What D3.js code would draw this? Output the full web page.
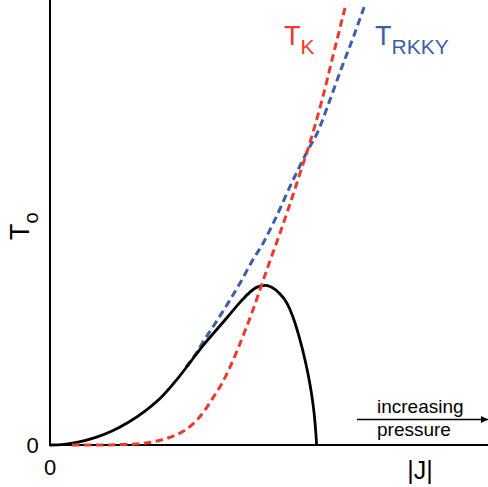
<!DOCTYPE html>
<html><head><meta charset="utf-8">
<script src="https://cdn.jsdelivr.net/npm/d3@7"></script>
<style>html,body{margin:0;padding:0;background:#fff}svg{display:block}text{font-family:"Liberation Sans",Arial,sans-serif}</style>
</head><body>
<script>
// Data (J, T), both in normalized units
const neelJ = [0,0.0320,0.0639,0.1027,0.1416,0.1781,0.2169,0.2557,0.2922,0.3196,0.3470,0.3767,0.4064,0.4338,0.4566,0.4726,0.4909,0.5023,0.5137,0.5251,0.5365,0.5479,0.5594,0.5708,0.5822,0.5913,0.5982,0.6039,0.6073,0.6087];
const neelT = [0,0.0016,0.0063,0.0164,0.0315,0.0506,0.0762,0.1090,0.1501,0.1852,0.2207,0.2551,0.2888,0.3204,0.3436,0.3548,0.3587,0.3562,0.3499,0.3393,0.3258,0.3045,0.2742,0.2360,0.1910,0.1483,0.1079,0.0629,0.0225,0];
const kondoJ = [0.050,0.114,0.160,0.205,0.240,0.267,0.297,0.324,0.349,0.372,0.393,0.411,0.429,0.445,0.461,0.479,0.502,0.525,0.548,0.571,0.600,0.621,0.646,0.674];
const kondoT = [0,0,0.001,0.003,0.008,0.015,0.027,0.045,0.072,0.106,0.139,0.175,0.216,0.256,0.297,0.348,0.413,0.476,0.542,0.611,0.701,0.775,0.874,0.984];
const rkkyJ = [0.3105,0.3311,0.349,0.379,0.411,0.438,0.463,0.484,0.502,0.523,0.541,0.566,0.589,0.610,0.639,0.664,0.692,0.717];
const rkkyT = [0.1753,0.2022,0.231,0.276,0.326,0.371,0.416,0.449,0.483,0.526,0.566,0.618,0.663,0.701,0.775,0.843,0.915,0.984];
const xTickLabels = ["0"];
const yTickLabels = ["0"];
const xAxisLabel = "|J|";
const yAxisLabel = ["T", "o"];
const kondoLabel = ["T", "K"];
const rkkyLabel = ["T", "RKKY"];
const arrowLabels = ["increasing", "pressure"];

const W = 488, H = 487;
const RED = "#ee3a2c", BLUE = "#3d5eab";
const svg = d3.select("body").append("svg").attr("width", W).attr("height", H);
const x = d3.scaleLinear().domain([0, 1]).range([50, 488]);
const y = d3.scaleLinear().domain([0, 1]).range([445, 0]);

svg.append("defs").append("marker").attr("id","ah").attr("viewBox","0 0 10 10")
  .attr("refX",10).attr("refY",5).attr("markerWidth",13).attr("markerHeight",7)
  .attr("markerUnits","userSpaceOnUse").attr("orient","auto")
  .append("path").attr("d","M0,0L10,5L0,10z").attr("fill","#000");

// axes
svg.append("line").attr("x1", x(0)).attr("x2", x(0)).attr("y1", y(0)).attr("y2", y(1))
  .attr("stroke", "#000").attr("stroke-width", 2);
svg.append("line").attr("x1", x(0) - 1).attr("x2", x(1)).attr("y1", y(0)).attr("y2", y(0))
  .attr("stroke", "#000").attr("stroke-width", 2);

const mk = (J, T) => J.map((j, i) => [j, T[i]]);
const line = d3.line().x(d => x(d[0])).y(d => y(d[1])).curve(d3.curveMonotoneX);

svg.append("path").attr("d", line(mk(rkkyJ, rkkyT))).attr("fill", "none")
  .attr("stroke", BLUE).attr("stroke-width", 3).attr("stroke-dasharray", "7.5,4.5");
svg.append("path").attr("d", line(mk(neelJ, neelT))).attr("fill", "none")
  .attr("stroke", "#000").attr("stroke-width", 2.8);
svg.append("path").attr("d", line(mk(kondoJ, kondoT))).attr("fill", "none")
  .attr("stroke", RED).attr("stroke-width", 3).attr("stroke-dasharray", "7.5,4.5");

// tick labels
svg.append("text").attr("x", x(0) - 17.5).attr("y", y(0) + 7.5).attr("text-anchor", "middle")
  .attr("font-size", 22).text(yTickLabels[0]);
svg.append("text").attr("x", x(0)).attr("y", y(0) + 29.5).attr("text-anchor", "middle")
  .attr("font-size", 22).text(xTickLabels[0]);
svg.append("text").attr("x", 420).attr("y", 479).attr("text-anchor", "middle")
  .attr("font-size", 25).text(xAxisLabel);

// y axis label
const yl = svg.append("text").attr("transform", "translate(29,240) rotate(-90)");
yl.append("tspan").attr("font-size", 27).text(yAxisLabel[0]);
yl.append("tspan").attr("font-size", 20).attr("dy", 9).text(yAxisLabel[1]);

// curve labels
const tk = svg.append("text").attr("x", 284).attr("y", 45).attr("fill", RED);
tk.append("tspan").attr("font-size", 27).text(kondoLabel[0]);
tk.append("tspan").attr("font-size", 21).attr("dy", 9).text(kondoLabel[1]);
const tr = svg.append("text").attr("x", 375).attr("y", 45).attr("fill", BLUE);
tr.append("tspan").attr("font-size", 27).text(rkkyLabel[0]);
tr.append("tspan").attr("font-size", 21).attr("dy", 9).text(rkkyLabel[1]);

// pressure arrow
svg.append("line").attr("x1", 357).attr("x2", 488).attr("y1", 419.5).attr("y2", 419.5)
  .attr("stroke", "#000").attr("stroke-width", 1.5).attr("marker-end", "url(#ah)");
svg.append("text").attr("x", 377).attr("y", 413).attr("font-size", 19).text(arrowLabels[0]);
svg.append("text").attr("x", 377).attr("y", 436).attr("font-size", 19).text(arrowLabels[1]);
</script>
</body></html>
